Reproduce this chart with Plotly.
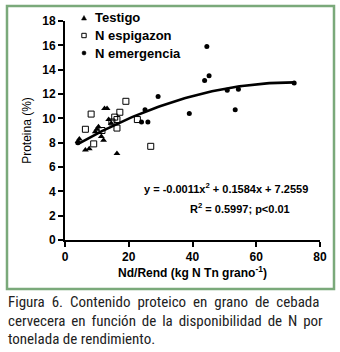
import numpy as np
import plotly.graph_objects as go

# Testigo (triangles)
testigo_x = [4.1, 4.5, 6.4, 7.6, 9.5, 10.0, 10.5, 11.4, 12.1, 12.4, 13.2, 13.7, 14.5, 16.3]
testigo_y = [8.1, 8.3, 7.4, 7.5, 8.9, 9.1, 9.3, 8.5, 8.2, 10.8, 10.8, 9.9, 9.6, 7.1]

# N espigazon (open squares)
espig_x = [6.4, 8.2, 9.0, 11.6, 14.7, 15.6, 16.3, 16.3, 17.2, 19.1, 22.7, 26.9]
espig_y = [9.1, 10.35, 7.9, 9.0, 9.7, 10.1, 9.9, 9.2, 10.5, 11.4, 9.9, 7.7]

# N emergencia (filled circles)
emerg_x = [4.0, 24.0, 25.1, 26.0, 29.2, 39.0, 43.8, 44.5, 45.2, 50.9, 53.4, 54.4, 71.9]
emerg_y = [8.0, 9.7, 10.7, 9.7, 11.8, 10.4, 13.1, 15.9, 13.5, 12.3, 10.7, 12.4, 12.9]

# Fitted quadratic shown on chart
coef = [-0.0011, 0.1584, 7.2559]
fit_range = [4.0, 71.9]

x_ticks = [0, 20, 40, 60, 80]
y_ticks = [0, 2, 4, 6, 8, 10, 12, 14, 16, 18]

series_names = ["Testigo", "N espigazon", "N emergencia"]

caption_lines = [
    "Figura 6. Contenido proteico en grano de cebada",
    "cervecera en función de la disponibilidad de N por",
    "tonelada de rendimiento.",
]
caption_extra_space = ["\u2005", "\u2006", ""]

# plot area in pixels (for paper-coordinate placement)
PL, PR, PT, PB = 65, 320, 21, 240
PW, PH = PR - PL, PB - PT


def px(x):
    return (x - PL) / PW


def py(y):
    return (PB - y) / PH


fx = np.linspace(fit_range[0], fit_range[1], 80)
fy = coef[0] * fx**2 + coef[1] * fx + coef[2]

fig = go.Figure()
fig.add_trace(go.Scatter(x=fx, y=fy, mode="lines", line=dict(color="black", width=2.6),
                         showlegend=False, hoverinfo="skip"))
fig.add_trace(go.Scatter(x=testigo_x, y=testigo_y, mode="markers", name=series_names[0],
                         showlegend=False,
                         marker=dict(symbol="triangle-up", size=6, color="black")))
fig.add_trace(go.Scatter(x=espig_x, y=espig_y, mode="markers", name=series_names[1],
                         showlegend=False,
                         marker=dict(symbol="square-open", size=6, color="black", line=dict(width=1))))
fig.add_trace(go.Scatter(x=emerg_x, y=emerg_y, mode="markers", name=series_names[2],
                         showlegend=False,
                         marker=dict(symbol="circle", size=5, color="black")))

font_main = "Liberation Sans, Arial, sans-serif"
fig.update_layout(
    width=340, height=352,
    margin=dict(l=PL, r=340 - PR, t=PT, b=352 - PB),
    paper_bgcolor="white", plot_bgcolor="white",
    font=dict(family=font_main, color="black", size=12),
    showlegend=False,
    xaxis=dict(range=[0, 80], tickvals=x_ticks, showgrid=False, zeroline=False,
               showline=True, linecolor="black", linewidth=2, ticks="outside",
               ticklen=5, tickwidth=2, tickcolor="black",
               tickfont=dict(size=12, weight="bold"),
               title=dict(text="<b>Nd/Rend (kg N Tn grano<sup>-1</sup>)</b>", font=dict(size=12), standoff=2)),
    yaxis=dict(range=[0, 18], tickvals=y_ticks, showgrid=False, zeroline=False,
               showline=True, linecolor="black", linewidth=2, ticks="outside",
               ticklen=5, tickwidth=2, tickcolor="black",
               tickfont=dict(size=12, weight="bold"),
               title=dict(text="Proteina (%)", font=dict(size=12), standoff=8)),
)

# Green frame around chart
fig.add_shape(type="rect", xref="paper", yref="paper",
              x0=px(7), x1=px(334), y0=py(289), y1=py(6),
              line=dict(color="#7aa97a", width=2.5), layer="below")

# Custom legend (compact rows like the reference)
leg_rows = [18, 35.5, 53]
mx, tx = 84, 93
fig.add_shape(type="path", xref="paper", yref="paper", xsizemode="pixel", ysizemode="pixel",
              xanchor=px(mx), yanchor=py(leg_rows[0]),
              path="M -2.5,-2 L 2.5,-2 L 0,2.5 Z", fillcolor="black", line=dict(color="black", width=0.5))
fig.add_shape(type="rect", xref="paper", yref="paper", xsizemode="pixel", ysizemode="pixel",
              xanchor=px(mx), yanchor=py(leg_rows[1]), x0=-2.2, x1=2.2, y0=-2.2, y1=2.2,
              fillcolor="white", line=dict(color="black", width=1))
fig.add_shape(type="circle", xref="paper", yref="paper", xsizemode="pixel", ysizemode="pixel",
              xanchor=px(mx), yanchor=py(leg_rows[2]), x0=-2, x1=2, y0=-2, y1=2,
              fillcolor="black", line=dict(color="black", width=0.5))
for name, ry in zip(series_names, leg_rows):
    fig.add_annotation(x=px(tx), y=py(ry), xref="paper", yref="paper", xanchor="left", yanchor="middle",
                       text="<b>" + name + "</b>", showarrow=False, font=dict(size=13))

fig.add_annotation(x=px(310), y=py(188), xref="paper", yref="paper", xanchor="right", yanchor="middle",
                   text="<b>y = -0.0011x<sup>2</sup> + 0.1584x + 7.2559</b>", showarrow=False,
                   font=dict(size=11))
fig.add_annotation(x=px(188), y=py(208), xref="paper", yref="paper", xanchor="left", yanchor="middle",
                   text="<b>R<sup>2</sup> = 0.5997; p&lt;0.01</b>", showarrow=False,
                   font=dict(size=11))

cap_font = "Liberation Sans Narrow, Roboto Condensed, Arial Narrow, sans-serif"
for i, (line, extra) in enumerate(zip(caption_lines, caption_extra_space)):
    txt = line.replace(" ", " " + extra) if extra else line
    fig.add_annotation(x=px(6), y=py(302 + 18.5 * i), xref="paper", yref="paper",
                       xanchor="left", yanchor="middle", text=txt, showarrow=False,
                       font=dict(size=15, family=cap_font, color="#222222"))

fig.write_html("out.html")
